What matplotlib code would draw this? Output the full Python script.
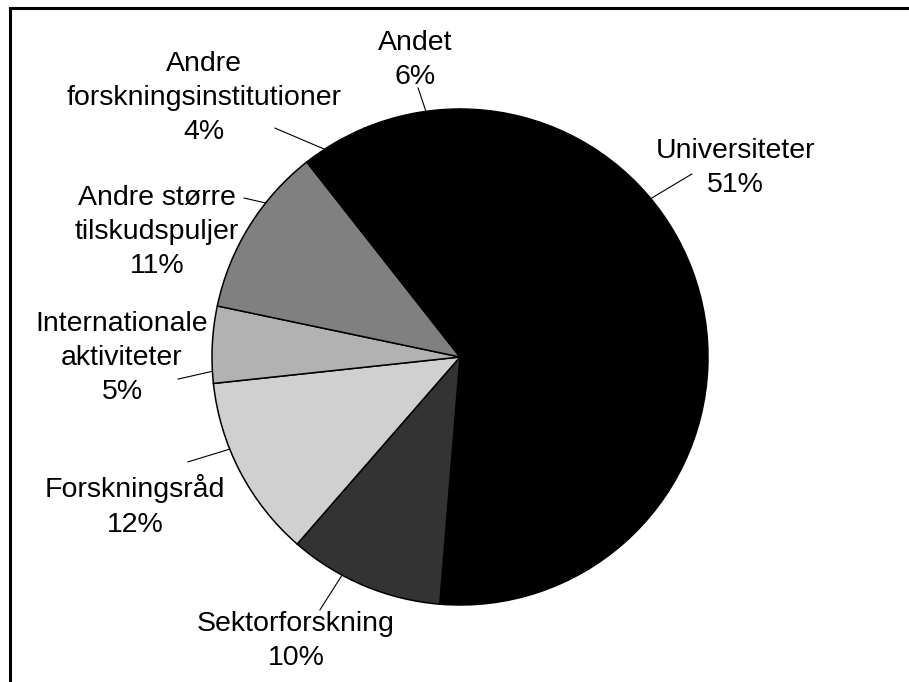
import numpy as np
import matplotlib
matplotlib.use("Agg")
import matplotlib.pyplot as plt
from matplotlib.lines import Line2D

plt.rcParams['font.family'] = ['Liberation Sans', 'DejaVu Sans']

# Data (share of funding, %)
names = ["Universiteter", "Sektorforskning", "Forskningsråd",
         "Internationale\naktiviteter", "Andre større\ntilskudspuljer",
         "Andre\nforskningsinstitutioner", "Andet"]
values = [51.3, 10.1, 11.9, 5.0, 11.1, 4.3, 6.3]
colors = ["#000000", "#333333", "#d0d0d0", "#b2b2b2", "#808080", "#000000", "#000000"]

# Label layout (data units, pie radius = 1)
label_xy = [(1.109, 0.762), (-0.661, -1.145), (-1.310, -0.601), (-1.363, -0.004),
            (-1.222, 0.504), (-1.032, 1.044), (-0.181, 1.198)]
leader_from = [(0.935, 0.738), (-0.565, -1.020), (-1.097, -0.423), (-1.137, -0.089),
               (-0.871, 0.641), (-0.746, 0.923), (-0.169, 1.085)]
leader_angle = [39.7, 241.6, 201.8, 183.3, 141.6, 123.1, 97.9]

W, H = 909, 682
fig = plt.figure(figsize=(W / 100, H / 100), dpi=100)

# pie centre at (460, 357) px, radius 248 px
cx, cy, r = 460, 357, 248
ax = fig.add_axes([(cx - r) / W, (H - cy - r) / H, 2 * r / W, 2 * r / H])
ax.pie(values, colors=colors, startangle=90, counterclock=False, radius=1,
       wedgeprops=dict(edgecolor="black", linewidth=1.1))
ax.set_xlim(-1, 1)
ax.set_ylim(-1, 1)
ax.axis("off")

for name, v, (lx, ly), (fx, fy), a in zip(names, values, label_xy, leader_from, leader_angle):
    ax.text(lx, ly, f"{name}\n{round(v)}%", ha="center", va="center",
            fontsize=20.5, linespacing=1.42, clip_on=False)
    t = np.deg2rad(a)
    ax.plot([fx, np.cos(t)], [fy, np.sin(t)], color="black", lw=0.8, clip_on=False)

# frame (top and left edge visible)
fig.add_artist(Line2D([10 / W, 1], [1 - 8 / H, 1 - 8 / H], color="black", lw=2.2))
fig.add_artist(Line2D([10 / W, 10 / W], [0, 1 - 8 / H], color="black", lw=2.2))

fig.savefig("out.png", dpi=100)
